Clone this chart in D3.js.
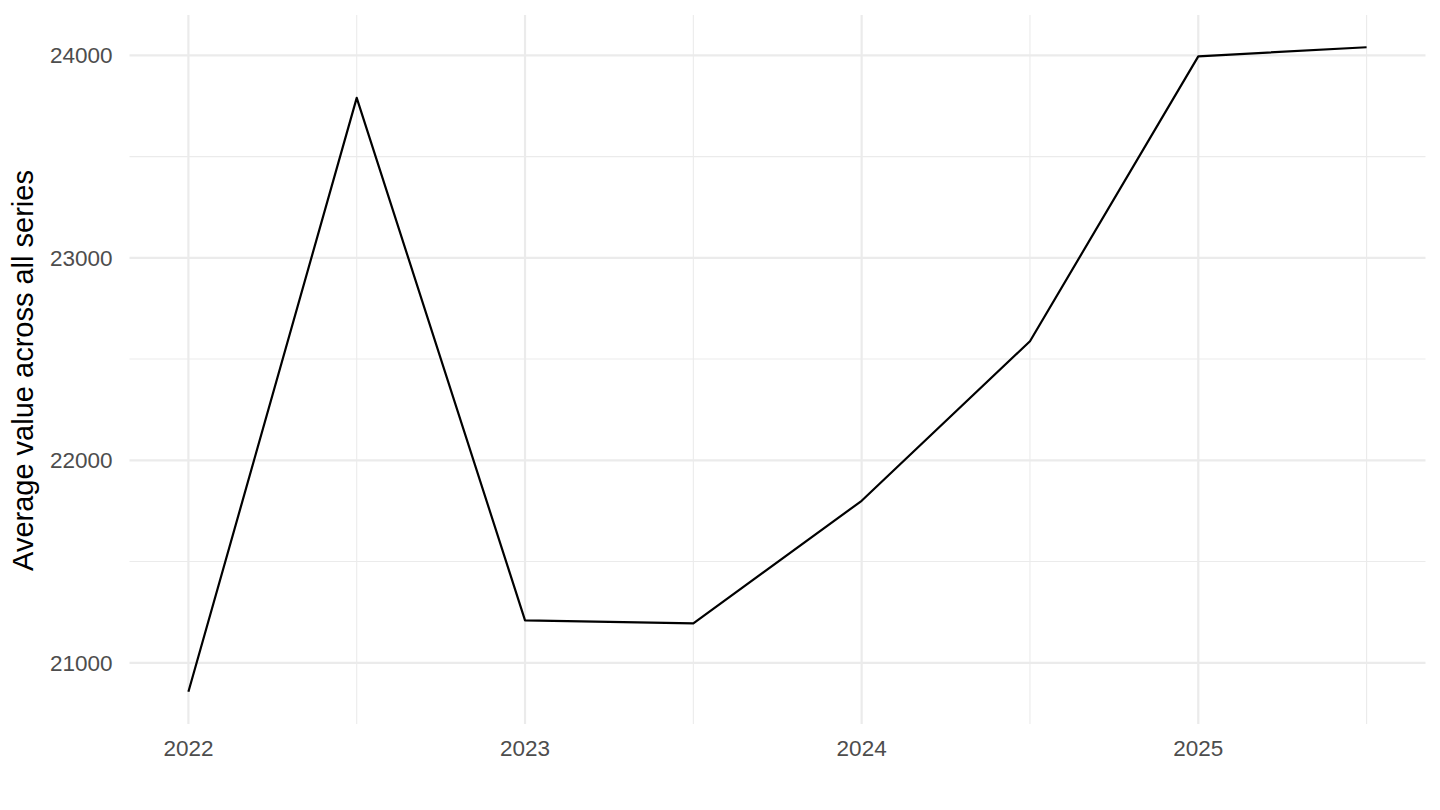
<!DOCTYPE html>
<html><head><meta charset="utf-8">
<script src="https://cdn.jsdelivr.net/npm/d3@7"></script>
<style>body{margin:0;background:#fff;}svg{display:block;font-family:"Liberation Sans",Arial,sans-serif;}</style>
</head><body>
<svg id="chart" width="1440" height="810"></svg>
<script>
const dates = [2022.0, 2022.5, 2023.0, 2023.5, 2024.0, 2024.5, 2025.0, 2025.5];
const values = [20857, 23790, 21210, 21195, 21800, 22588, 23995, 24040];
const xTicks = [2022, 2023, 2024, 2025];
const xMinor = [2022.5, 2023.5, 2024.5, 2025.5];
const yTicks = [21000, 22000, 23000, 24000];
const yMinor = [21500, 22500, 23500];
const yTitle = "Average value across all series";

const svg = d3.select("#chart");
const L = 129.5, R = 1425.5, T = 15, B = 724;
const xe = (d3.max(dates) - d3.min(dates)) * 0.05;
const ye = (d3.max(values) - d3.min(values)) * 0.05;
const x = d3.scaleLinear().domain([d3.min(dates) - xe, d3.max(dates) + xe]).range([L, R]);
const y = d3.scaleLinear().domain([d3.min(values) - ye, d3.max(values) + ye]).range([B, T]);

const grid = svg.append("g");
grid.selectAll(".ym").data(yMinor).join("line")
  .attr("x1", L).attr("x2", R).attr("y1", d => y(d)).attr("y2", d => y(d))
  .attr("stroke", "#EBEBEB").attr("stroke-width", 1.1);
grid.selectAll(".xm").data(xMinor).join("line")
  .attr("y1", T).attr("y2", B).attr("x1", d => x(d)).attr("x2", d => x(d))
  .attr("stroke", "#EBEBEB").attr("stroke-width", 1.1);
grid.selectAll(".yM").data(yTicks).join("line")
  .attr("x1", L).attr("x2", R).attr("y1", d => y(d)).attr("y2", d => y(d))
  .attr("stroke", "#EBEBEB").attr("stroke-width", 2.2);
grid.selectAll(".xM").data(xTicks).join("line")
  .attr("y1", T).attr("y2", B).attr("x1", d => x(d)).attr("x2", d => x(d))
  .attr("stroke", "#EBEBEB").attr("stroke-width", 2.2);

svg.append("g").selectAll("text").data(yTicks).join("text")
  .attr("x", L - 17).attr("y", d => y(d)).attr("dy", "0.36em")
  .attr("text-anchor", "end").attr("font-size", 22.5).attr("fill", "#4D4D4D")
  .text(d => d);
svg.append("g").selectAll("text").data(xTicks).join("text")
  .attr("x", d => x(d)).attr("y", 756).attr("text-anchor", "middle")
  .attr("font-size", 22.5).attr("fill", "#4D4D4D").text(d => d);

svg.append("text").attr("transform", `translate(33,${(T + B) / 2 + 1}) rotate(-90)`)
  .attr("text-anchor", "middle").attr("font-size", 29).attr("fill", "#000")
  .text(yTitle);

const line = d3.line().x((d, i) => x(dates[i])).y(d => y(d));
svg.append("path").datum(values).attr("d", line)
  .attr("fill", "none").attr("stroke", "#000").attr("stroke-width", 2.2)
  .attr("stroke-linejoin", "round");
</script>
</body></html>
